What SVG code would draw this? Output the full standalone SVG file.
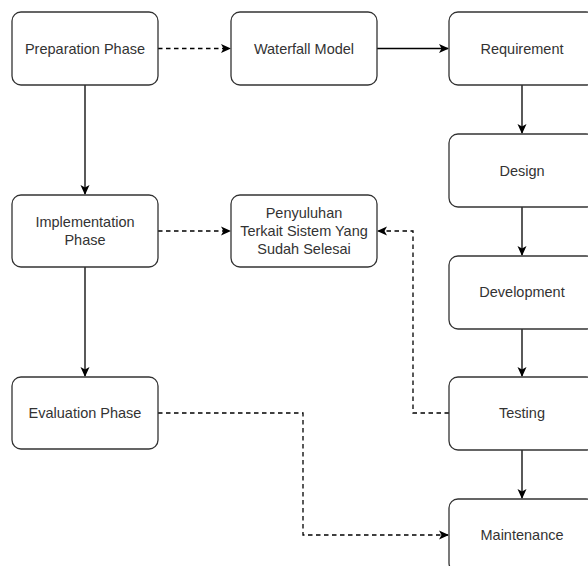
<svg xmlns="http://www.w3.org/2000/svg" width="588" height="566" viewBox="0 0 588 566">
<defs>
<marker id="arr" viewBox="0 0 10 10" refX="9" refY="5" markerWidth="10" markerHeight="10" markerUnits="userSpaceOnUse" orient="auto">
<path d="M0,0.5 L10,5 L0,9.5 L2.5,5 Z" fill="#000"/>
</marker>
<style>
.box{fill:#fff;stroke:#333;stroke-width:1.3}
.t{font-family:"Liberation Sans",Arial,sans-serif;font-size:14.5px;fill:#333;text-anchor:middle}
.c{fill:none;stroke:#000;stroke-width:1.3}
.d{stroke-dasharray:4.5 3.5}
</style>
</defs>
<rect width="588" height="566" fill="#fff"/>
<g id="connectors">
<path class="c d" d="M158,48.5 H230" marker-end="url(#arr)"/>
<path class="c" d="M377,48.5 H448" marker-end="url(#arr)"/>
<path class="c" d="M85,85 V194" marker-end="url(#arr)"/>
<path class="c" d="M85,267 V376" marker-end="url(#arr)"/>
<path class="c d" d="M158,231 H230" marker-end="url(#arr)"/>
<path class="c d" d="M449,413 H413 V231 H378" marker-end="url(#arr)"/>
<path class="c d" d="M158,413 H303 V535 H448" marker-end="url(#arr)"/>
<path class="c" d="M522,85 V133" marker-end="url(#arr)"/>
<path class="c" d="M522,207 V255" marker-end="url(#arr)"/>
<path class="c" d="M522,329 V376" marker-end="url(#arr)"/>
<path class="c" d="M522,450 V498" marker-end="url(#arr)"/>
</g>
<g id="prep"><rect class="box" x="12" y="12" width="146" height="73" rx="9"/><text class="t" x="85" y="53.5">Preparation Phase</text></g>
<g id="waterfall"><rect class="box" x="231" y="12" width="146" height="73" rx="9"/><text class="t" x="304" y="53.5">Waterfall Model</text></g>
<g id="requirement"><rect class="box" x="449" y="12" width="146" height="73" rx="9"/><text class="t" x="522" y="53.5">Requirement</text></g>
<g id="design"><rect class="box" x="449" y="134" width="146" height="73" rx="9"/><text class="t" x="522" y="175.5">Design</text></g>
<g id="development"><rect class="box" x="449" y="256" width="146" height="73" rx="9"/><text class="t" x="522" y="297">Development</text></g>
<g id="testing"><rect class="box" x="449" y="377" width="146" height="73" rx="9"/><text class="t" x="522" y="418">Testing</text></g>
<g id="maintenance"><rect class="box" x="449" y="499" width="146" height="73" rx="9"/><text class="t" x="522" y="540">Maintenance</text></g>
<g id="implementation"><rect class="box" x="12" y="195" width="146" height="72" rx="9"/><text class="t" x="85" y="227">Implementation</text><text class="t" x="85" y="245">Phase</text></g>
<g id="penyuluhan"><rect class="box" x="231" y="195" width="146" height="72" rx="9"/><text class="t" x="304" y="218">Penyuluhan</text><text class="t" x="304" y="236">Terkait Sistem Yang</text><text class="t" x="304" y="254">Sudah Selesai</text></g>
<g id="evaluation"><rect class="box" x="12" y="377" width="146" height="72" rx="9"/><text class="t" x="85" y="418">Evaluation Phase</text></g>
</svg>
